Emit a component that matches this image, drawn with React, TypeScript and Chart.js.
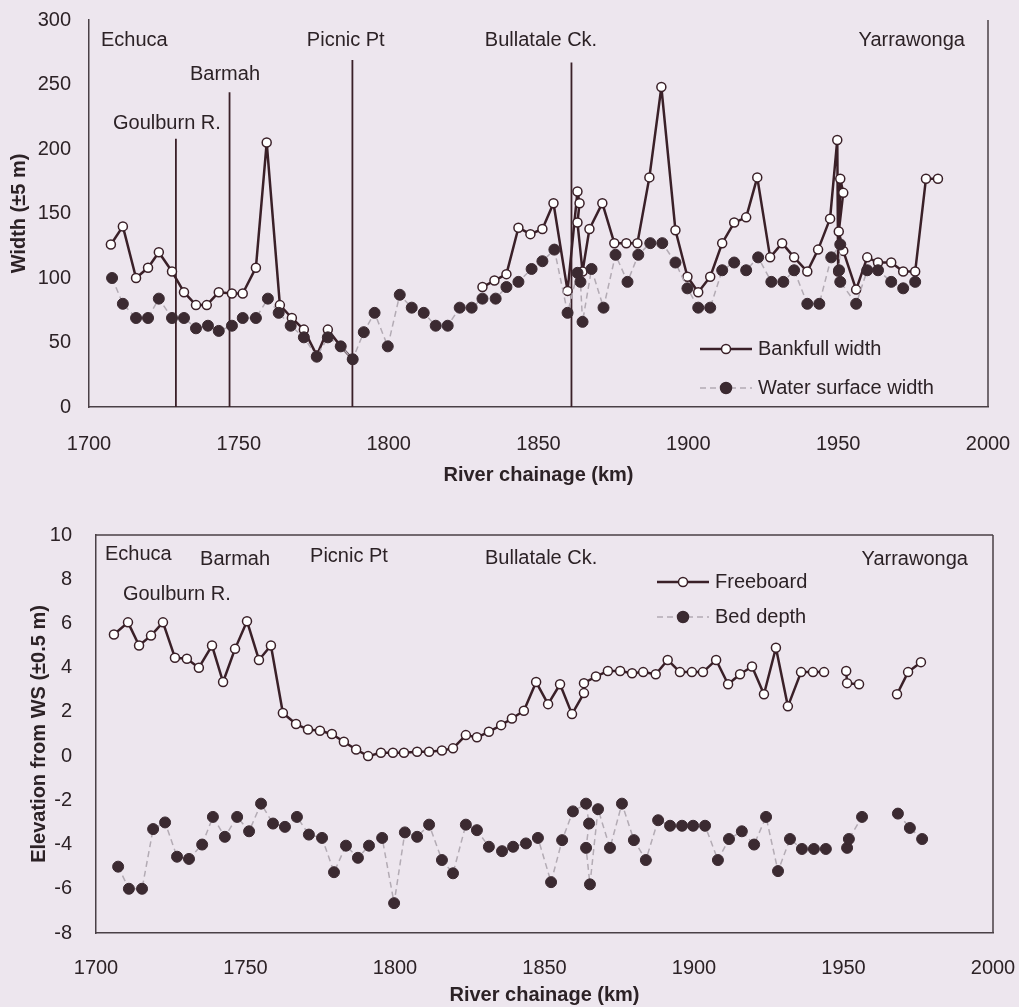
import React, { useEffect, useRef } from 'react';
import { Chart, registerables } from 'chart.js';

Chart.register(...registerables);

// ---------- styling ----------
const BG = '#ede6ee';
const INK = '#2c2226';
const AXIS = '#4a4046';
const LINE = '#3a2028';
const DOT = '#3b2a31';
const GREY = '#b3abb4';
const FONT = "'Liberation Sans', Arial, Helvetica, sans-serif";

// ---------- axes ----------
const xTickValues = [1700, 1750, 1800, 1850, 1900, 1950, 2000];
const widthTickValues = [0, 50, 100, 150, 200, 250, 300];
const elevTickValues = [-8, -6, -4, -2, 0, 2, 4, 6, 8, 10];

// ---------- top chart: widths ----------
const bankfullKm = [
  1707.3, 1711.3, 1715.7, 1719.7, 1723.3, 1727.7, 1731.7, 1735.7, 1739.3, 1743.3,
  1747.7, 1751.3, 1755.7, 1759.3, 1763.7, 1767.7, 1771.7, 1776.0, 1779.7, 1784.0,
  1788.0, 1810.0, 1831.3, 1835.3, 1839.3, 1843.3, 1847.3, 1851.3, 1855.0, 1859.7,
  1863.0, 1863.7, 1863.0, 1864.7, 1867.0, 1871.3, 1875.3, 1879.3, 1883.0, 1887.0,
  1891.0, 1895.7, 1899.7, 1903.3, 1907.3, 1911.3, 1915.3, 1919.3, 1923.0, 1927.3,
  1931.3, 1935.3, 1939.7, 1943.3, 1947.3, 1949.7, 1950.0, 1950.7, 1951.7, 1950.2,
  1951.7, 1956.0, 1959.7, 1963.3, 1967.7, 1971.7, 1975.7, 1979.3, 1983.3,
];
const bankfullWidth = [
  126, 140, 100, 108, 120, 105, 89, 79, 79, 89,
  88, 88, 108, 205, 79, 69, 60, 40, 60, 47,
  37, null, 93, 98, 103, 139, 134, 138, 158, 90,
  167, 158, 143, 105, 138, 158, 127, 127, 127, 178,
  248, 137, 101, 89, 101, 127, 143, 147, 178, 116,
  127, 116, 105, 122, 146, 207, 105, 177, 166, 136,
  121, 91, 116, 112, 112, 105, 105, 177, 177,
];
const waterKm = [
  1707.7, 1711.3, 1715.7, 1719.7, 1723.3, 1727.7, 1731.7, 1735.7, 1739.7, 1743.3,
  1747.7, 1751.3, 1755.7, 1759.7, 1763.3, 1767.3, 1771.7, 1776.0, 1779.7, 1784.0,
  1788.0, 1791.7, 1795.3, 1799.7, 1803.7, 1807.7, 1811.7, 1815.7, 1819.7, 1823.7,
  1827.7, 1831.3, 1835.7, 1839.3, 1843.3, 1847.7, 1851.3, 1855.3, 1859.7, 1863.0,
  1864.0, 1864.7, 1867.7, 1871.7, 1875.7, 1879.7, 1883.3, 1887.3, 1891.3, 1895.7,
  1899.7, 1903.3, 1907.3, 1911.3, 1915.3, 1919.3, 1923.3, 1927.7, 1931.7, 1935.3,
  1939.7, 1943.7, 1947.7, 1950.7, 1950.3, 1950.7, 1956.0, 1959.7, 1963.3, 1967.7,
  1971.7, 1975.7,
];
const waterWidth = [
  100, 80, 69, 69, 84, 69, 69, 61, 63, 59,
  63, 69, 69, 84, 73, 63, 54, 39, 54, 47,
  37, 58, 73, 47, 87, 77, 73, 63, 63, 77,
  77, 84, 84, 93, 97, 107, 113, 122, 73, 104,
  97, 66, 107, 77, 118, 97, 118, 127, 127, 112,
  92, 77, 77, 106, 112, 106, 116, 97, 97, 106,
  80, 80, 116, 126, 106, 97, 80, 106, 106, 97,
  92, 97,
];
const siteNames = ['Goulburn R.', 'Barmah', 'Picnic Pt', 'Bullatale Ck.'];
const siteKm = [1729.0, 1746.9, 1787.9, 1861.0];
const siteLineTop = [208, 244, 269, 267];

// ---------- bottom chart: elevations ----------
const freeboardKm = [
  1706.0, 1710.7, 1714.4, 1718.4, 1722.4, 1726.4, 1730.4, 1734.4, 1738.8, 1742.5,
  1746.5, 1750.5, 1754.5, 1758.5, 1762.5, 1766.9, 1770.9, 1774.9, 1778.9, 1782.9,
  1787.0, 1791.0, 1795.3, 1799.3, 1803.0, 1807.4, 1811.4, 1815.7, 1819.4, 1823.7,
  1827.4, 1831.4, 1835.5, 1839.1, 1843.1, 1847.2, 1851.2, 1855.2, 1859.2, 1863.2,
  1863.2, 1867.2, 1871.2, 1875.3, 1879.3, 1883.0, 1887.2, 1891.2, 1895.3, 1899.3,
  1903.0, 1907.4, 1911.4, 1915.4, 1919.4, 1923.4, 1927.4, 1931.4, 1935.8, 1939.8,
  1943.5, 1947.0, 1950.9, 1951.2, 1955.2, 1960.0, 1967.9, 1971.6, 1975.9,
];
const freeboardM = [
  5.5, 6.05, 5.0, 5.45, 6.05, 4.45, 4.4, 4.0, 5.0, 3.35,
  4.85, 6.1, 4.35, 5.0, 1.95, 1.45, 1.2, 1.15, 1.0, 0.65,
  0.3, 0.0, 0.15, 0.15, 0.15, 0.2, 0.2, 0.25, 0.35, 0.95,
  0.85, 1.1, 1.4, 1.7, 2.05, 3.35, 2.35, 3.25, 1.9, 2.85,
  3.3, 3.6, 3.85, 3.85, 3.75, 3.8, 3.7, 4.35, 3.8, 3.8,
  3.8, 4.35, 3.25, 3.7, 4.05, 2.8, 4.9, 2.25, 3.8, 3.8,
  3.8, null, 3.85, 3.3, 3.25, null, 2.8, 3.8, 4.25,
];
const bedKm = [
  1707.4, 1711.0, 1715.4, 1719.1, 1723.1, 1727.1, 1731.1, 1735.5, 1739.1, 1743.1,
  1747.2, 1751.2, 1755.2, 1759.2, 1763.2, 1767.2, 1771.2, 1775.6, 1779.6, 1783.6,
  1787.6, 1791.3, 1795.7, 1799.7, 1803.3, 1807.4, 1811.4, 1815.7, 1819.4, 1823.7,
  1827.4, 1831.4, 1835.8, 1839.5, 1843.8, 1847.8, 1852.2, 1855.9, 1859.5, 1863.9,
  1864.9, 1863.9, 1865.2, 1867.9, 1871.9, 1875.9, 1879.9, 1883.9, 1888.0, 1892.0,
  1896.0, 1899.7, 1903.7, 1908.0, 1911.7, 1916.0, 1920.1, 1924.1, 1928.1, 1932.1,
  1936.1, 1940.1, 1944.1, 1947.0, 1951.2, 1951.8, 1956.2, 1962.0, 1968.2, 1972.2,
  1976.3,
];
const bedM = [
  -5.0, -6.0, -6.0, -3.3, -3.0, -4.55, -4.65, -4.0, -2.75, -3.65,
  -2.75, -3.4, -2.15, -3.05, -3.2, -2.75, -3.55, -3.7, -5.25, -4.05,
  -4.6, -4.05, -3.7, -6.65, -3.45, -3.65, -3.1, -4.7, -5.3, -3.1,
  -3.35, -4.1, -4.3, -4.1, -3.95, -3.7, -5.7, -3.8, -2.5, -2.15,
  -3.05, -4.15, -5.8, -2.4, -4.15, -2.15, -3.8, -4.7, -2.9, -3.15,
  -3.15, -3.15, -3.15, -4.7, -3.75, -3.4, -4.0, -2.75, -5.2, -3.75,
  -4.2, -4.2, -4.2, null, -4.15, -3.75, -2.75, null, -2.6, -3.25,
  -3.75,
];

// ---------- text annotations (data coordinates) ----------
const topPlaceText = [
  { text: 'Echuca', x: 1704.0, y: 284.5, align: 'left' },
  { text: 'Goulburn R.', x: 1708.0, y: 220, align: 'left' },
  { text: 'Barmah', x: 1733.7, y: 257.4, align: 'left' },
  { text: 'Picnic Pt', x: 1772.7, y: 284.5, align: 'left' },
  { text: 'Bullatale Ck.', x: 1832.1, y: 284.5, align: 'left' },
  { text: 'Yarrawonga', x: 1992.3, y: 284.5, align: 'right' },
];
const bottomPlaceText = [
  { text: 'Echuca', x: 1703.0, y: 9.14, align: 'left' },
  { text: 'Barmah', x: 1734.8, y: 8.91, align: 'left' },
  { text: 'Picnic Pt', x: 1771.6, y: 9.05, align: 'left' },
  { text: 'Goulburn R.', x: 1709.0, y: 7.33, align: 'left' },
  { text: 'Bullatale Ck.', x: 1830.1, y: 8.96, align: 'left' },
  { text: 'Yarrawonga', x: 1991.6, y: 8.91, align: 'right' },
];

const pts = (xs: number[], ys: (number | null)[]) => xs.map((x, i) => ({ x, y: ys[i] }));

const placeTextPlugin = (items: any[]) => ({
  id: 'placeText',
  afterDatasetsDraw(chart: any) {
    const { ctx, scales } = chart;
    ctx.save();
    ctx.font = `20px ${FONT}`;
    ctx.fillStyle = INK;
    ctx.textBaseline = 'middle';
    items.forEach((it) => {
      ctx.textAlign = it.align;
      ctx.fillText(it.text, scales.x.getPixelForValue(it.x), scales.y.getPixelForValue(it.y));
    });
    ctx.restore();
  },
});

const framePlugin = (sides: { top: boolean; right: boolean }) => ({
  id: 'frame',
  afterDraw(chart: any) {
    const { ctx, chartArea: a } = chart;
    ctx.save();
    ctx.strokeStyle = AXIS;
    ctx.lineWidth = 1.5;
    ctx.beginPath();
    if (sides.right) {
      ctx.moveTo(a.right, a.top);
      ctx.lineTo(a.right, a.bottom);
    }
    if (sides.top) {
      ctx.moveTo(a.left, a.top);
      ctx.lineTo(a.right, a.top);
    }
    ctx.stroke();
    ctx.restore();
  },
});

// Legend key: sample line with marker, drawn inside the plot.
const keyPlugin = (entries: { label: string; solid: boolean; x: number; y: number }[]) => ({
  id: 'keyBox',
  afterDraw(chart: any) {
    const ctx = chart.ctx;
    entries.forEach((e) => {
      ctx.save();
      ctx.strokeStyle = e.solid ? LINE : GREY;
      ctx.lineWidth = e.solid ? 2.5 : 1.5;
      ctx.setLineDash(e.solid ? [] : [6, 4]);
      ctx.beginPath();
      ctx.moveTo(e.x, e.y);
      ctx.lineTo(e.x + 52, e.y);
      ctx.stroke();
      ctx.setLineDash([]);
      ctx.beginPath();
      ctx.arc(e.x + 26, e.y, e.solid ? 4.5 : 5.5, 0, Math.PI * 2);
      ctx.fillStyle = e.solid ? '#ffffff' : DOT;
      ctx.fill();
      ctx.strokeStyle = e.solid ? LINE : DOT;
      ctx.lineWidth = 1.5;
      ctx.stroke();
      ctx.fillStyle = INK;
      ctx.font = `20px ${FONT}`;
      ctx.textBaseline = 'middle';
      ctx.textAlign = 'left';
      ctx.fillText(e.label, e.x + 58, e.y);
      ctx.restore();
    });
  },
});

const tickFont = { family: FONT, size: 20 };
const titleFont = { family: FONT, size: 20, weight: 'bold' as const };

function zeroPad(s: any) {
  s.paddingLeft = 0;
  s.paddingRight = 0;
  s.paddingTop = 0;
  s.paddingBottom = 0;
}

function xScale(tickPad: number, height: number, titleBottom: number) {
  return {
    type: 'linear' as const,
    min: xTickValues[0],
    max: xTickValues[xTickValues.length - 1],
    afterBuildTicks: (s: any) => {
      s.ticks = xTickValues.map((v) => ({ value: v }));
    },
    ticks: {
      padding: tickPad,
      color: INK,
      font: tickFont,
      maxRotation: 0,
      autoSkip: false,
      callback: (v: any) => String(v),
    },
    grid: { display: false, drawTicks: false },
    border: { display: true, color: AXIS, width: 1.5 },
    title: {
      display: true,
      text: 'River chainage (km)',
      color: INK,
      font: titleFont,
      padding: { top: 0, bottom: titleBottom },
    },
    afterFit: (s: any) => {
      s.height = height;
      zeroPad(s);
    },
  };
}

function yScale(values: number[], title: string, tickPad: number, width: number, titleTop: number) {
  return {
    type: 'linear' as const,
    min: values[0],
    max: values[values.length - 1],
    afterBuildTicks: (s: any) => {
      s.ticks = values.map((v) => ({ value: v }));
    },
    ticks: { padding: tickPad, color: INK, font: tickFont, callback: (v: any) => String(v) },
    grid: { display: false, drawTicks: false },
    border: { display: true, color: AXIS, width: 1.5 },
    title: { display: true, text: title, color: INK, font: titleFont, padding: { top: titleTop, bottom: 0 } },
    afterFit: (s: any) => {
      s.width = width;
      zeroPad(s);
    },
  };
}

function buildTop(canvas: HTMLCanvasElement) {
  return new Chart(canvas, {
    type: 'line',
    data: {
      datasets: [
        ...siteNames.map((n, i) => ({
          label: n,
          data: [
            { x: siteKm[i], y: 0 },
            { x: siteKm[i], y: siteLineTop[i] },
          ],
          borderColor: LINE,
          borderWidth: 1.8,
          pointRadius: 0,
          order: 2,
        })),
        {
          label: 'Bankfull width',
          data: pts(bankfullKm, bankfullWidth),
          borderColor: LINE,
          borderWidth: 2.5,
          borderJoinStyle: 'round',
          pointRadius: 4.5,
          pointBackgroundColor: '#ffffff',
          pointBorderColor: LINE,
          pointBorderWidth: 1.5,
          spanGaps: false,
          order: 1,
        },
        {
          label: 'Water surface width',
          data: pts(waterKm, waterWidth),
          borderColor: GREY,
          borderWidth: 1.5,
          borderDash: [6, 4],
          pointRadius: 5.5,
          pointBackgroundColor: DOT,
          pointBorderColor: DOT,
          pointBorderWidth: 1,
          spanGaps: false,
          order: 0,
        },
      ] as any,
    },
    options: {
      animation: false,
      responsive: false,
      events: [],
      layout: { padding: { left: 0, top: 20, right: 31, bottom: 0 } },
      elements: { line: { tension: 0 } },
      plugins: { legend: { display: false }, tooltip: { enabled: false } },
      scales: {
        x: xScale(25, 93, 13),
        y: yScale(widthTickValues, 'Width (±5 m)', 18, 89, 7),
      } as any,
    },
    plugins: [
      placeTextPlugin(topPlaceText),
      framePlugin({ top: false, right: true }),
      keyPlugin([
        { label: 'Bankfull width', solid: true, x: 700, y: 349 },
        { label: 'Water surface width', solid: false, x: 700, y: 388 },
      ]),
    ],
  });
}

function buildBottom(canvas: HTMLCanvasElement) {
  return new Chart(canvas, {
    type: 'line',
    data: {
      datasets: [
        {
          label: 'Freeboard',
          data: pts(freeboardKm, freeboardM),
          borderColor: LINE,
          borderWidth: 2.5,
          borderJoinStyle: 'round',
          pointRadius: 4.5,
          pointBackgroundColor: '#ffffff',
          pointBorderColor: LINE,
          pointBorderWidth: 1.5,
          spanGaps: false,
          order: 1,
        },
        {
          label: 'Bed depth',
          data: pts(bedKm, bedM),
          borderColor: GREY,
          borderWidth: 1.5,
          borderDash: [6, 4],
          pointRadius: 5.5,
          pointBackgroundColor: DOT,
          pointBorderColor: DOT,
          pointBorderWidth: 1,
          spanGaps: false,
          order: 0,
        },
      ] as any,
    },
    options: {
      animation: false,
      responsive: false,
      events: [],
      layout: { padding: { left: 0, top: 35, right: 26, bottom: 0 } },
      elements: { line: { tension: 0 } },
      plugins: { legend: { display: false }, tooltip: { enabled: false } },
      scales: {
        x: xScale(23, 74, 0),
        y: yScale(elevTickValues, 'Elevation from WS (±0.5 m)', 24, 96, 27),
      } as any,
    },
    plugins: [
      placeTextPlugin(bottomPlaceText),
      framePlugin({ top: true, right: true }),
      keyPlugin([
        { label: 'Freeboard', solid: true, x: 657, y: 82 },
        { label: 'Bed depth', solid: false, x: 657, y: 117 },
      ]),
    ],
  });
}

function Panel({ top, height, build }: { top: number; height: number; build: (c: HTMLCanvasElement) => Chart }) {
  const ref = useRef<HTMLCanvasElement>(null);
  useEffect(() => {
    if (!ref.current) return;
    const chart = build(ref.current);
    return () => chart.destroy();
  }, [build]);
  return (
    <div style={{ position: 'absolute', left: 0, top, width: 1019, height }}>
      <canvas ref={ref} width={1019} height={height} style={{ width: 1019, height, display: 'block' }} />
    </div>
  );
}

export default function App() {
  return (
    <div
      style={{
        position: 'absolute',
        left: 0,
        top: 0,
        width: 1019,
        height: 1007,
        background: BG,
        overflow: 'hidden',
      }}
    >
      <Panel top={0} height={500} build={buildTop} />
      <Panel top={500} height={507} build={buildBottom} />
    </div>
  );
}
